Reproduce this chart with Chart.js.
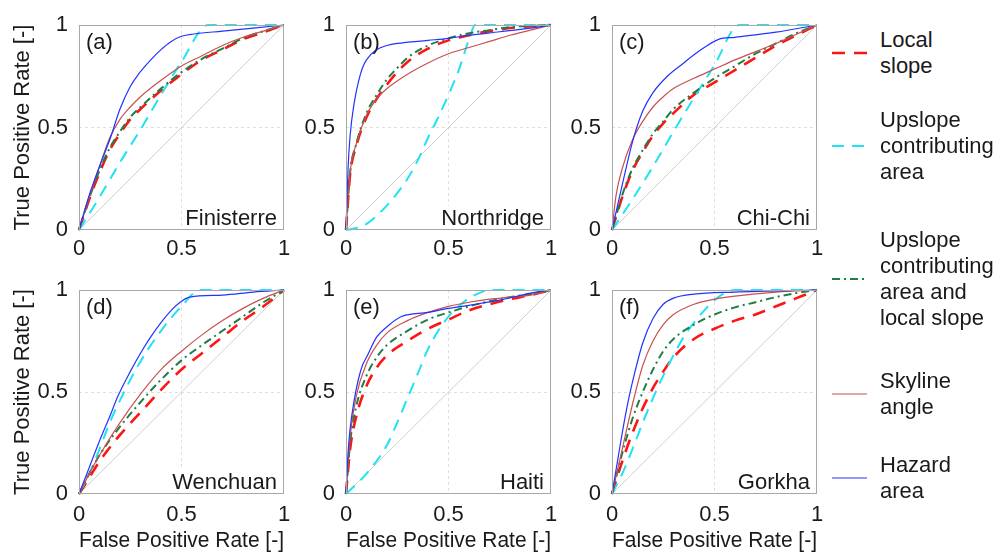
<!DOCTYPE html>
<html>
<head>
<meta charset="utf-8">
<script src="https://cdn.jsdelivr.net/npm/chart.js@4.4.1/dist/chart.umd.min.js"></script>
<style>
html,body{margin:0;padding:0;background:#fff;}
body{width:997px;height:554px;position:relative;overflow:hidden;font-family:"Liberation Sans",Arial,sans-serif;}
.panel{position:absolute;}
.leg{position:absolute;left:832px;display:flex;align-items:center;color:#1a1a1a;font-size:22px;line-height:26px;}
.leg svg{display:block;margin-right:13px;}
</style>
</head>
<body>
<div id="root"></div>
<script>
// ---------------- DATA ----------------
const panelLabels = ['(a)', '(b)', '(c)', '(d)', '(e)', '(f)'];
const eventNames = ['Finisterre', 'Northridge', 'Chi-Chi', 'Wenchuan', 'Haiti', 'Gorkha'];
const seriesNames = ['Local slope', 'Upslope contributing area', 'Upslope contributing area and local slope', 'Skyline angle', 'Hazard area'];
const legendLines = [['Local', 'slope'], ['Upslope', 'contributing', 'area'], ['Upslope', 'contributing', 'area and', 'local slope'], ['Skyline', 'angle'], ['Hazard', 'area']];
const axisTicks = [0, 0.5, 1];
const axisTickLabels = ['0', '0.5', '1'];
const xAxisTitle = 'False Positive Rate [-]';
const yAxisTitle = 'True Positive Rate [-]';
const diagonalLine = [[0, 0], [1, 1]];

// (a) Finisterre  [FPR, TPR]
const finisterreLocal = [[0,0],[0.05,0.15],[0.1,0.28],[0.15,0.39],[0.2,0.47],[0.25,0.54],[0.3,0.59],[0.4,0.68],[0.5,0.76],[0.6,0.83],[0.7,0.88],[0.8,0.93],[0.9,0.965],[1,1]];
const finisterreUpslope = [[0,0],[0.1,0.16],[0.2,0.33],[0.3,0.49],[0.4,0.66],[0.5,0.82],[0.63,1],[1,1]];
const finisterreCombined = [[0,0],[0.05,0.155],[0.1,0.29],[0.15,0.4],[0.2,0.48],[0.25,0.55],[0.3,0.6],[0.4,0.69],[0.5,0.77],[0.6,0.835],[0.7,0.885],[0.8,0.935],[0.9,0.97],[1,1]];
const finisterreSkyline = [[0,0],[0.05,0.16],[0.1,0.31],[0.15,0.45],[0.2,0.54],[0.25,0.6],[0.3,0.65],[0.4,0.73],[0.5,0.8],[0.6,0.85],[0.7,0.9],[0.8,0.94],[0.9,0.97],[1,1]];
const finisterreHazard = [[0,0],[0.05,0.17],[0.1,0.31],[0.15,0.44],[0.2,0.59],[0.25,0.7],[0.29,0.76],[0.35,0.83],[0.4,0.88],[0.45,0.92],[0.5,0.945],[0.56,0.956],[0.7,0.97],[0.85,0.985],[1,1]];

// (b) Northridge
const northridgeLocal = [[0,0],[0.02,0.27],[0.05,0.41],[0.1,0.55],[0.15,0.64],[0.2,0.71],[0.25,0.77],[0.3,0.82],[0.4,0.885],[0.5,0.925],[0.6,0.95],[0.7,0.97],[0.8,0.985],[1,1]];
const northridgeUpslope = [[0,0],[0.05,0.01],[0.1,0.03],[0.15,0.07],[0.2,0.12],[0.25,0.18],[0.3,0.25],[0.35,0.34],[0.4,0.45],[0.45,0.55],[0.5,0.66],[0.55,0.78],[0.6,0.93],[0.63,1],[1,1]];
const northridgeCombined = [[0,0],[0.02,0.28],[0.05,0.42],[0.1,0.57],[0.15,0.66],[0.2,0.735],[0.25,0.79],[0.3,0.84],[0.4,0.9],[0.5,0.935],[0.6,0.96],[0.7,0.975],[0.8,0.99],[1,1]];
const northridgeSkyline = [[0,0],[0.02,0.28],[0.05,0.42],[0.1,0.56],[0.15,0.64],[0.2,0.69],[0.3,0.76],[0.4,0.815],[0.5,0.86],[0.6,0.89],[0.7,0.92],[0.8,0.95],[0.9,0.975],[1,1]];
const northridgeHazard = [[0,0],[0.01,0.3],[0.02,0.46],[0.04,0.62],[0.06,0.72],[0.08,0.79],[0.1,0.83],[0.15,0.88],[0.2,0.9],[0.25,0.91],[0.4,0.925],[0.5,0.935],[0.6,0.95],[0.75,0.967],[0.9,0.985],[1,1]];

// (c) Chi-Chi
const chichiLocal = [[0,0],[0.05,0.16],[0.1,0.29],[0.15,0.38],[0.2,0.46],[0.25,0.52],[0.3,0.57],[0.4,0.66],[0.5,0.72],[0.6,0.78],[0.7,0.84],[0.8,0.9],[0.9,0.95],[1,1]];
const chichiUpslope = [[0,0],[0.1,0.15],[0.2,0.31],[0.3,0.48],[0.4,0.645],[0.5,0.805],[0.62,1],[1,1]];
const chichiCombined = [[0,0],[0.05,0.17],[0.1,0.3],[0.15,0.39],[0.2,0.47],[0.25,0.53],[0.3,0.59],[0.4,0.67],[0.5,0.74],[0.6,0.8],[0.7,0.86],[0.8,0.91],[0.9,0.96],[1,1]];
const chichiSkyline = [[0,0],[0.02,0.17],[0.05,0.3],[0.1,0.44],[0.15,0.53],[0.2,0.6],[0.25,0.65],[0.3,0.69],[0.4,0.74],[0.5,0.785],[0.6,0.83],[0.7,0.87],[0.8,0.91],[0.9,0.955],[1,1]];
const chichiHazard = [[0,0],[0.05,0.22],[0.1,0.43],[0.15,0.58],[0.2,0.67],[0.27,0.75],[0.35,0.815],[0.4,0.855],[0.45,0.89],[0.52,0.93],[0.6,0.94],[0.8,0.965],[1,1]];

// (d) Wenchuan
const wenchuanLocal = [[0,0],[0.05,0.08],[0.1,0.16],[0.2,0.29],[0.3,0.4],[0.4,0.51],[0.5,0.61],[0.6,0.69],[0.7,0.77],[0.8,0.85],[0.9,0.92],[1,1]];
const wenchuanUpslope = [[0,0],[0.05,0.1],[0.1,0.22],[0.15,0.35],[0.22,0.5],[0.3,0.65],[0.4,0.8],[0.5,0.92],[0.59,1],[1,1]];
const wenchuanCombined = [[0,0],[0.05,0.1],[0.1,0.19],[0.2,0.33],[0.3,0.45],[0.4,0.56],[0.5,0.655],[0.6,0.73],[0.7,0.8],[0.8,0.87],[0.9,0.94],[1,1]];
const wenchuanSkyline = [[0,0],[0.05,0.1],[0.1,0.19],[0.2,0.35],[0.3,0.49],[0.4,0.61],[0.5,0.7],[0.6,0.78],[0.7,0.85],[0.8,0.91],[0.9,0.96],[1,1]];
const wenchuanHazard = [[0,0],[0.05,0.13],[0.1,0.26],[0.15,0.38],[0.19,0.48],[0.25,0.6],[0.3,0.69],[0.35,0.77],[0.4,0.84],[0.45,0.9],[0.5,0.945],[0.54,0.965],[0.7,0.975],[0.85,0.99],[1,1]];

// (e) Haiti
const haitiLocal = [[0,0],[0.02,0.22],[0.05,0.38],[0.1,0.53],[0.15,0.62],[0.2,0.68],[0.3,0.75],[0.4,0.81],[0.5,0.855],[0.6,0.9],[0.7,0.93],[0.8,0.955],[0.9,0.975],[1,1]];
const haitiUpslope = [[0,0],[0.1,0.1],[0.2,0.24],[0.25,0.35],[0.3,0.47],[0.35,0.59],[0.4,0.71],[0.45,0.8],[0.5,0.87],[0.55,0.92],[0.6,0.96],[0.65,0.985],[0.7,1],[1,1]];
const haitiCombined = [[0,0],[0.02,0.25],[0.05,0.43],[0.1,0.58],[0.15,0.67],[0.2,0.73],[0.3,0.8],[0.4,0.855],[0.5,0.89],[0.6,0.92],[0.7,0.945],[0.8,0.965],[0.9,0.98],[1,1]];
const haitiSkyline = [[0,0],[0.02,0.28],[0.05,0.48],[0.1,0.64],[0.15,0.73],[0.2,0.79],[0.3,0.85],[0.4,0.89],[0.5,0.92],[0.6,0.94],[0.7,0.955],[0.8,0.965],[0.9,0.975],[1,1]];
const haitiHazard = [[0,0],[0.01,0.2],[0.02,0.32],[0.04,0.46],[0.06,0.56],[0.08,0.63],[0.1,0.67],[0.15,0.77],[0.2,0.82],[0.27,0.87],[0.4,0.89],[0.5,0.91],[0.6,0.925],[0.75,0.95],[0.9,0.985],[1,1]];

// (f) Gorkha
const gorkhaLocal = [[0,0],[0.05,0.16],[0.1,0.3],[0.15,0.42],[0.2,0.52],[0.25,0.6],[0.3,0.67],[0.4,0.76],[0.5,0.81],[0.6,0.85],[0.7,0.88],[0.8,0.92],[0.9,0.96],[1,1]];
const gorkhaUpslope = [[0,0],[0.05,0.1],[0.1,0.22],[0.15,0.35],[0.2,0.47],[0.25,0.58],[0.3,0.68],[0.35,0.77],[0.4,0.84],[0.45,0.9],[0.5,0.95],[0.55,0.985],[0.6,1],[1,1]];
const gorkhaCombined = [[0,0],[0.05,0.2],[0.1,0.37],[0.15,0.5],[0.2,0.61],[0.25,0.7],[0.3,0.76],[0.4,0.83],[0.5,0.88],[0.6,0.915],[0.7,0.94],[0.8,0.965],[0.9,0.985],[1,1]];
const gorkhaSkyline = [[0,0],[0.05,0.22],[0.1,0.44],[0.15,0.63],[0.2,0.75],[0.25,0.83],[0.3,0.88],[0.4,0.93],[0.5,0.955],[0.6,0.97],[0.8,0.99],[1,1]];
const gorkhaHazard = [[0,0],[0.03,0.18],[0.05,0.3],[0.08,0.46],[0.1,0.55],[0.15,0.74],[0.2,0.86],[0.25,0.93],[0.3,0.96],[0.4,0.98],[0.6,0.99],[1,1]];

const panelSeries = [
  [finisterreLocal, finisterreUpslope, finisterreCombined, finisterreSkyline, finisterreHazard],
  [northridgeLocal, northridgeUpslope, northridgeCombined, northridgeSkyline, northridgeHazard],
  [chichiLocal, chichiUpslope, chichiCombined, chichiSkyline, chichiHazard],
  [wenchuanLocal, wenchuanUpslope, wenchuanCombined, wenchuanSkyline, wenchuanHazard],
  [haitiLocal, haitiUpslope, haitiCombined, haitiSkyline, haitiHazard],
  [gorkhaLocal, gorkhaUpslope, gorkhaCombined, gorkhaSkyline, gorkhaHazard]
];

// ---------------- STYLE ----------------
const seriesColors = ['#ff1414', '#20e2f2', '#1f7d45', '#c9504f', '#2233ff'];
const seriesWidths = [2.6, 2, 2, 1.2, 1.2];
const seriesDash = [[13, 9], [12, 8], [8, 4, 2, 4], [], []];
const seriesOrder = [5, 4, 3, 2, 1];
const FONT = '"Liberation Sans", Arial, sans-serif';
const TEXT = '#1a1a1a';

const colLefts = [79, 346, 612];
const PLOT = 205;
const rowsGeom = [
  {canvasTop: 0, canvasH: 260, top: 25, bottom: 230, tickPad: 8},
  {canvasTop: 260, canvasH: 294, top: 290, bottom: 494, tickPad: 10}
];
const YW = 79, PADR = 14;

const decor = {
  id: 'decor',
  afterDatasetsDraw(chart, args, opts) {
    const {ctx, chartArea: a} = chart;
    ctx.save();
    ctx.strokeStyle = '#a8a8a8';
    ctx.lineWidth = 1;
    ctx.setLineDash([]);
    ctx.strokeRect(Math.round(a.left) + 0.5, Math.round(a.top) + 0.5, Math.round(a.right - a.left) - 1, Math.round(a.bottom - a.top) - 1);
    ctx.font = '22px ' + FONT;
    ctx.textBaseline = 'alphabetic';
    ctx.fillStyle = TEXT;
    ctx.textAlign = 'left';
    ctx.fillText(opts.label, a.left + 7, a.top + 24);
    const w = ctx.measureText(opts.name).width;
    ctx.fillStyle = '#ffffff';
    ctx.fillRect(a.right - 7 - w - 2, a.bottom - 24, w + 4, 22);
    ctx.fillStyle = TEXT;
    ctx.textAlign = 'right';
    ctx.fillText(opts.name, a.right - 7, a.bottom - 5);
    ctx.restore();
  }
};

const tickLabel = (v) => {
  const idx = axisTicks.indexOf(v);
  return idx >= 0 ? axisTickLabels[idx] : '';
};

const root = document.getElementById('root');
panelSeries.forEach((series, i) => {
  const col = i % 3, row = Math.floor(i / 3);
  const g = rowsGeom[row];
  const div = document.createElement('div');
  div.className = 'panel';
  const W = YW + PLOT + PADR;
  div.style.left = (colLefts[col] - YW) + 'px';
  div.style.top = g.canvasTop + 'px';
  div.style.width = W + 'px';
  div.style.height = g.canvasH + 'px';
  const cv = document.createElement('canvas');
  cv.width = W; cv.height = g.canvasH;
  cv.style.width = W + 'px'; cv.style.height = g.canvasH + 'px';
  div.appendChild(cv);
  root.appendChild(div);
  const xH = g.canvasTop + g.canvasH - g.bottom;
  const padTop = g.top - g.canvasTop;

  const datasets = series.map((pts, k) => ({
    label: seriesNames[k],
    data: pts.map(p => ({x: p[0], y: p[1]})),
    borderColor: seriesColors[k],
    borderWidth: seriesWidths[k],
    borderDash: seriesDash[k],
    pointRadius: 0,
    fill: false,
    cubicInterpolationMode: 'monotone',
    order: seriesOrder[k],
    clip: 4
  }));
  datasets.push({
    label: 'diagonal',
    data: diagonalLine.map(p => ({x: p[0], y: p[1]})),
    borderColor: '#cfcfcf',
    borderWidth: 1,
    pointRadius: 0,
    order: 10,
    clip: 2
  });

  const gridColor = (c) => (c.tick && c.tick.value === 0.5) ? '#dedede' : 'rgba(0,0,0,0)';

  new Chart(cv, {
    type: 'line',
    data: {datasets},
    options: {
      responsive: false,
      animation: false,
      events: [],
      layout: {padding: {left: 0, right: PADR, top: padTop, bottom: 0}},
      plugins: {legend: {display: false}, tooltip: {enabled: false}, decor: {label: panelLabels[i], name: eventNames[i]}},
      scales: {
        x: {
          type: 'linear', min: 0, max: 1,
          afterBuildTicks: s => { s.ticks = axisTicks.map(v => ({value: v})); },
          afterFit: s => { s.height = xH; s.paddingLeft = 0; s.paddingRight = 0; },
          grid: {color: gridColor, drawTicks: false, lineWidth: 1},
          border: {display: false, dash: [3, 3]},
          ticks: {font: {family: FONT, size: 22, lineHeight: 1}, color: TEXT, padding: g.tickPad, maxRotation: 0, autoSkip: false, callback: tickLabel},
          title: {display: row === 1, text: xAxisTitle, font: {family: FONT, size: 22, lineHeight: 1}, color: TEXT, padding: {top: 0, bottom: 2}}
        },
        y: {
          type: 'linear', min: 0, max: 1,
          afterBuildTicks: s => { s.ticks = axisTicks.map(v => ({value: v})); },
          afterFit: s => { s.width = YW; s.paddingTop = 0; s.paddingBottom = 0; },
          grid: {color: gridColor, drawTicks: false, lineWidth: 1},
          border: {display: false, dash: [3, 3]},
          ticks: {font: {family: FONT, size: 22, lineHeight: 1}, color: TEXT, padding: 11, autoSkip: false, callback: tickLabel},
          title: {display: col === 0, text: yAxisTitle, font: {family: FONT, size: 22, lineHeight: 1}, color: TEXT, padding: {top: 12, bottom: 0}}
        }
      }
    },
    plugins: [decor]
  });
});

// ---------------- LEGEND ----------------
const legendTops = [27, 107, 227, 368, 452];
legendLines.forEach((lines, k) => {
  const item = document.createElement('div');
  item.className = 'leg';
  item.style.top = legendTops[k] + 'px';
  const ns = 'http://www.w3.org/2000/svg';
  const svg = document.createElementNS(ns, 'svg');
  svg.setAttribute('width', '35'); svg.setAttribute('height', '6');
  const ln = document.createElementNS(ns, 'line');
  ln.setAttribute('x1', '0'); ln.setAttribute('x2', '35');
  ln.setAttribute('y1', '3'); ln.setAttribute('y2', '3');
  ln.setAttribute('stroke', seriesColors[k]);
  ln.setAttribute('stroke-width', String(seriesWidths[k]));
  if (seriesDash[k].length) ln.setAttribute('stroke-dasharray', seriesDash[k].join(' '));
  svg.appendChild(ln);
  const txt = document.createElement('div');
  txt.innerHTML = lines.map(s => s.replace(/&/g, '&amp;')).join('<br>');
  item.appendChild(svg);
  item.appendChild(txt);
  document.body.appendChild(item);
});
</script>
</body>
</html>
